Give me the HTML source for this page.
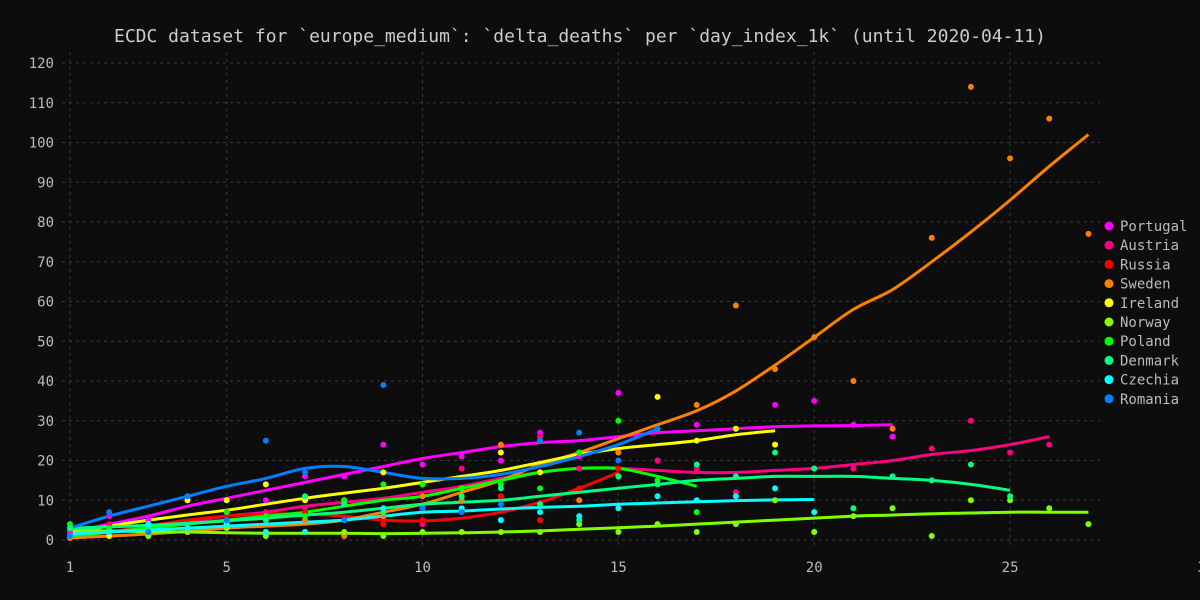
<!DOCTYPE html>
<html><head><meta charset="utf-8"><style>
html,body{margin:0;background:#0d0d0d;}
svg{display:block;font-family:"DejaVu Sans Mono","Liberation Mono",monospace;}
</style></head><body>
<svg id="c" width="1200" height="600">
<rect width="1200" height="600" fill="#0d0d0d"/>
<text x="580" y="42" text-anchor="middle" fill="#cccccc" font-size="18">ECDC dataset for `europe_medium`: `delta_deaths` per `day_index_1k` (until 2020-04-11)</text>
<g id="grid"></g><g id="lines"></g><g id="pts"></g><g id="legend"></g>
</svg>
<script>
const countries=["Portugal","Austria","Russia","Sweden","Ireland","Norway","Poland","Denmark","Czechia","Romania"];
const colors=["#ff00ff","#ff0080","#ff0000","#ff8000","#ffff00","#80ff00","#00ff00","#00ff80","#00ffff","#0080ff"];
const xTicks=[1,5,10,15,20,25,30];
const yTicks=[0,10,20,30,40,50,60,70,80,90,100,110,120];
const ptsPortugal=[2,6,5,10,10,10,16,16,24,19,21,20,27,21,37,20,29,28,34,35,29,26];
const ptsAustria=[1,4,1,2,7,7,8,9,4,4,18,11,26,18,22,20,18,12,10,18,18,16,23,30,22,24];
const ptsRussia=[1,1,2,2,7,6,7,5,4,5,7,11,5,13,18];
const ptsSweden=[0.5,1,2,2,4,2,5,1,6,11,10,24,25,10,22,28,34,59,43,51,40,28,76,114,96,106,77];
const ptsIreland=[1,1,4,10,10,14,10,10,17,14,13,22,17,22,16,36,25,28,24];
const ptsNorway=[3,2,1,2,3,1,2,2,1,2,2,2,2,4,2,4,2,4,10,2,6,8,1,10,10,8,4];
const ptsPoland=[4,3,2,3,7,6,6,10,14,14,13,14,13,22,30,15,7];
const ptsDenmark=[3,2,3,3,4,5,11,9,7,8,11,13,9,5,16,14,19,16,22,18,8,16,15,19,11];
const ptsCzechia=[1,2,4,3,4,2,2,5,8,8,8,5,7,6,8,11,10,11,13,7];
const ptsRomania=[1,7,2,11,5,25,17,5,39,8,7,9,25,27,20,28];
const fitPortugal=[2,4,6,8.5,10.5,12.5,14.5,16.5,18.5,20.5,22,23.5,24.5,25,26,27,27.5,28,28.5,28.7,28.8,29];
const fitAustria=[1.5,2,3,4.5,6,7,8.5,9.5,10.5,12,13.5,15.5,17,18,18,17.5,17,17,17.5,18,19,20,21.5,22.5,24,26];
const fitRussia=[0.5,2,3.5,5,6,6.5,6.5,6,5,4.8,5.5,7,9.5,13,17];
const fitSweden=[0.5,1,1.5,2.2,3,3.5,4,5,7,9,12,15,19,22,25.5,29,32.5,37.5,44,51,58,63,70,77.5,85.5,94,102];
const fitIreland=[2,3.5,5,6.3,7.5,9,10.5,11.8,13,14.5,16,17.5,19.5,21.5,23,24,25,26.5,27.5];
const fitNorway=[2.5,2.3,2.1,2,1.8,1.7,1.7,1.7,1.6,1.7,1.8,2,2.3,2.7,3.1,3.5,4,4.5,5,5.5,6,6.3,6.6,6.8,7,7,7];
const fitPoland=[1,2,3,4,5,6,7,8.5,10,11,13,15,17,18,18,16,13.5];
const fitDenmark=[3,3.3,3.7,4.2,4.8,5.5,6.3,7,8,9,9.5,10,11,12,13,14,15,15.5,16,16,16,15.5,15,14,12.5];
const fitCzechia=[1.5,2,2.5,3,3.5,4,4.5,5,6,7,7.3,7.8,8.2,8.5,9,9.3,9.6,9.9,10.1,10.2];
const fitRomania=[3,6,8.5,11,13.5,15.5,18,18.5,17,15.5,15.5,16.5,18.5,21,24,28];
const pts=[ptsPortugal,ptsAustria,ptsRussia,ptsSweden,ptsIreland,ptsNorway,ptsPoland,ptsDenmark,ptsCzechia,ptsRomania];
const fits=[fitPortugal,fitAustria,fitRussia,fitSweden,fitIreland,fitNorway,fitPoland,fitDenmark,fitCzechia,fitRomania];
const NS="http://www.w3.org/2000/svg";
const X=v=>70+(v-1)*39.17, Y=v=>540-v*3.975;
function mk(t,a,p){const e=document.createElementNS(NS,t);for(const k in a)e.setAttribute(k,a[k]);p.appendChild(e);return e;}
function smooth(P){
 let d='M'+P[0][0].toFixed(1)+','+P[0][1].toFixed(1);
 for(let i=0;i<P.length-1;i++){
  const p0=P[Math.max(i-1,0)],p1=P[i],p2=P[i+1],p3=P[Math.min(i+2,P.length-1)];
  const c1x=p1[0]+(p2[0]-p0[0])/6,c1y=p1[1]+(p2[1]-p0[1])/6;
  const c2x=p2[0]-(p3[0]-p1[0])/6,c2y=p2[1]-(p3[1]-p1[1])/6;
  d+='C'+c1x.toFixed(1)+','+c1y.toFixed(1)+' '+c2x.toFixed(1)+','+c2y.toFixed(1)+' '+p2[0].toFixed(1)+','+p2[1].toFixed(1);
 }
 return d;
}
const g=document.getElementById('grid');
yTicks.forEach(t=>{
 const l=mk('line',{x1:62,x2:1100,y1:Y(t),y2:Y(t),stroke:'#3a3a3a','stroke-dasharray':'3,4'},g);
 
 
 const tx=mk('text',{x:54,y:Y(t)+5,'text-anchor':'end',fill:'#bbbbbb','font-size':14},g);tx.textContent=t;
 
 
});
xTicks.forEach(t=>{
 const l=mk('line',{x1:X(t),x2:X(t),y1:52,y2:548,stroke:'#3a3a3a','stroke-dasharray':'3,4'},g);
 
 
 const tx=mk('text',{x:X(t),y:572,'text-anchor':'middle',fill:'#bbbbbb','font-size':14},g);tx.textContent=t;
 
 
});
const L=document.getElementById('lines'),P=document.getElementById('pts'),G=document.getElementById('legend');
countries.forEach((c,i)=>{
 const d=smooth(fits[i].map((v,j)=>[X(j+1),Y(v)]));
 const p=mk('path',{d:d,fill:'none',stroke:colors[i],'stroke-width':3,'stroke-linejoin':'round'},L);
 
 
 pts[i].forEach((v,j)=>{
  const ci=mk('circle',{cx:X(j+1),cy:Y(v),r:3,fill:colors[i]},P);
  
  
 });
 const y=226+i*19.2;
 const dot=mk('circle',{cx:1109,cy:y,r:4.5,fill:colors[i]},G);
 
 
 const tx=mk('text',{x:1120,y:y+5,fill:'#bbbbbb','font-size':14},G);tx.textContent=c;
 
 
});
</script>
</body></html>
